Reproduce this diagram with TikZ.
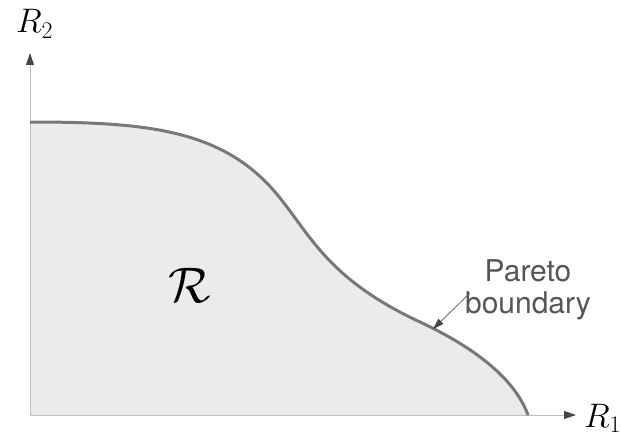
\RequirePackage{fix-cm}
\documentclass[tikz,border=0pt]{standalone}
\usepackage{fontspec}
\setsansfont{TeX Gyre Heros}
\usetikzlibrary{arrows.meta}
\definecolor{regionfill}{RGB}{235,235,236}
\definecolor{curvegray}{RGB}{120,120,122}
\definecolor{axisgray}{RGB}{190,190,190}
\definecolor{tipgray}{RGB}{70,70,72}
\definecolor{labelgray}{RGB}{85,85,85}
\begin{document}
\begin{tikzpicture}[x=1pt,y=-1pt,
  axis/.style={draw=axisgray,line width=1pt,-{Triangle[length=12pt,width=8pt,fill=tipgray,color=tipgray]}},
  boundary/.style={draw=curvegray,line width=3pt},
  axlabel/.style={font=\fontsize{34}{36}\selectfont,inner sep=0pt,anchor=base west},
  pointer/.style={draw=labelgray,line width=0.7pt,-{Triangle[length=11pt,width=7pt,fill=tipgray,color=tipgray]}}]
\useasboundingbox (0,0) rectangle (621,436);
\coordinate (O) at (30,415);
\coordinate (Ytip) at (30,53);
\coordinate (Xtip) at (576,415);
\coordinate (Top) at (30,122);
\coordinate (End) at (528,415);
\fill[regionfill] (O) -- (Top) .. controls (150,122) and (226,130) .. (280,198)
  .. controls (312,238) and (330,280) .. (420,322)
  .. controls (486,353) and (517,385) .. (End) -- cycle;
\draw[axis] (O) -- (Ytip);
\draw[axis] (O) -- (Xtip);
\draw[boundary] (Top) .. controls (150,122) and (226,130) .. (280,198)
  .. controls (312,238) and (330,280) .. (420,322)
  .. controls (486,353) and (517,385) .. (End);
\node[axlabel] (r2) at (16,33) {$R_2$};
\node[axlabel] (r1) at (584,427) {$R_1$};
\node[font=\fontsize{50}{52}\selectfont] (reg) at (190,285) {$\mathcal{R}$};
\node[font=\sffamily\fontsize{30}{32}\selectfont,text=labelgray,align=center,inner sep=0pt] (pb) at (528,290) {Pareto\\boundary};
\coordinate (ps) at (470,293);
\coordinate (pe) at (433,329);
\draw[pointer] (ps) -- (pe);
\end{tikzpicture}
\end{document}
